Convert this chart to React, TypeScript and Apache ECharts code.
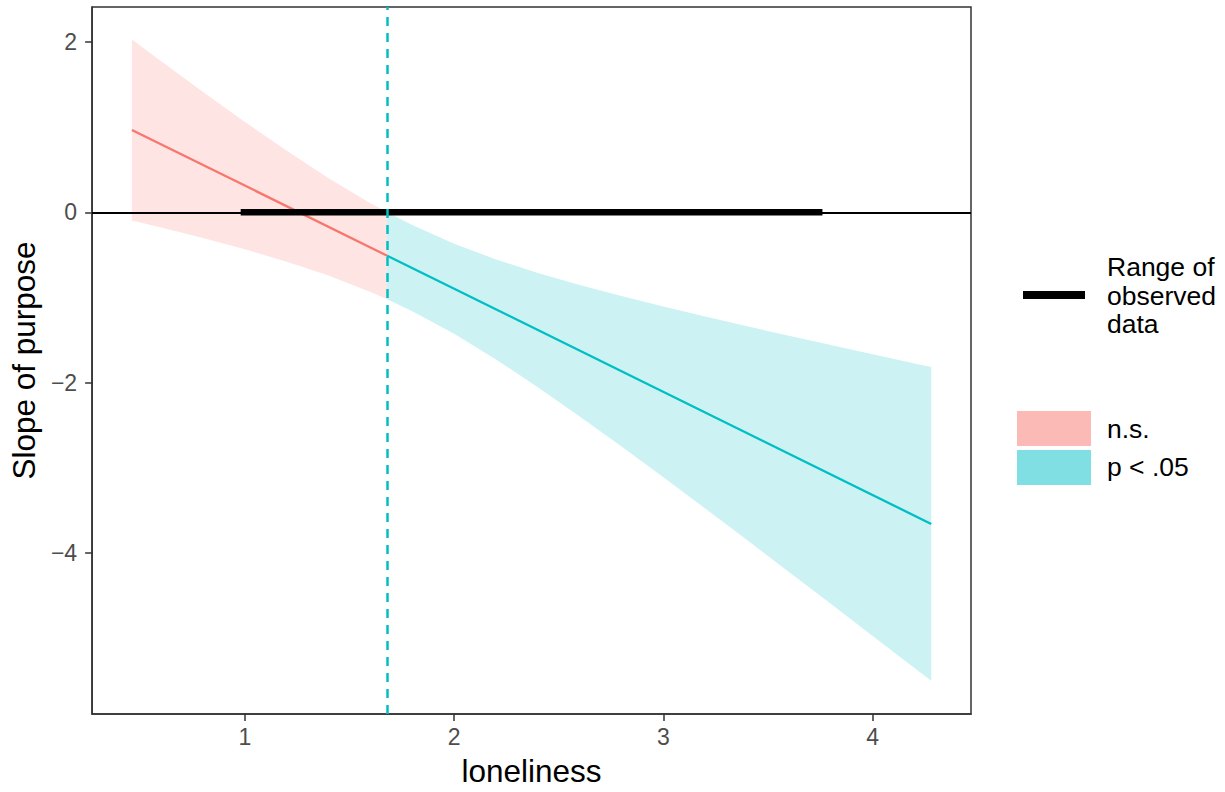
import React, { useEffect, useRef } from "react";
import * as echarts from "echarts";

// ---- data ----
const xTicks = [1, 2, 3, 4];
const yTicks = [-4, -2, 0, 2];

const nsX = [0.46, 0.6, 0.8, 1.0, 1.2, 1.4, 1.6, 1.68];
const nsLower = [-0.095, -0.179, -0.303, -0.435, -0.58, -0.743, -0.935, -1.02];
const nsUpper = [2.029, 1.773, 1.412, 1.061, 0.722, 0.401, 0.107, 0.0];

const sigX = [1.68, 1.8, 2.0, 2.2, 2.4, 2.6, 2.8, 3.0, 3.2, 3.4, 3.6, 3.8, 4.0, 4.2, 4.28];
const sigLower = [-1.02, -1.162, -1.427, -1.727, -2.053, -2.396, -2.75, -3.111, -3.478, -3.848, -4.222, -4.597, -4.973, -5.35, -5.501];
const sigUpper = [0.0, -0.15, -0.369, -0.553, -0.712, -0.854, -0.984, -1.107, -1.224, -1.338, -1.45, -1.559, -1.667, -1.774, -1.816];

const nsSlopeX = [0.46, 1.68];
const nsSlope = [0.967, -0.51];
const sigSlopeX = [1.68, 4.28];
const sigSlope = [-0.51, -3.659];

const observedRange = [0.98, 3.76];
const jnPoint = 1.68;

const xLimits = [0.27, 4.47];
const yLimits = [-5.89, 2.41];

const RED = "#F8766D";
const CYAN = "#00BFC4";
const FONT = "'Liberation Sans', Arial, Helvetica, sans-serif";

function bandSeries(xs: number[], lo: number[], hi: number[], fill: string) {
  return {
    type: "custom",
    data: xs.map((x, i) => [x, lo[i], hi[i]]),
    encode: { x: 0, y: [1, 2] },
    clip: true,
    silent: true,
    z: 1,
    renderItem: (params: any, api: any) => {
      if (params.dataIndex !== 0) return null;
      const top = xs.map((x, i) => api.coord([x, hi[i]]));
      const bot = xs.map((x, i) => api.coord([x, lo[i]])).reverse();
      return {
        type: "polygon",
        shape: { points: [...top, ...bot] },
        style: { fill },
      };
    },
  };
}

export default function App() {
  const ref = useRef<HTMLDivElement>(null);

  useEffect(() => {
    document.body.style.margin = "0";
    if (!ref.current) return;
    const chart = echarts.init(ref.current, undefined, { renderer: "svg" });

    const fmtMinus = (v: number) => (v < 0 ? "\u2212" + Math.abs(v) : String(v));

    chart.setOption({
      animation: false,
      backgroundColor: "#FFFFFF",
      textStyle: { fontFamily: FONT },
      grid: {
        left: 92,
        right: 254,
        top: 7,
        bottom: 75,
        show: true,
        borderColor: "#333333",
        borderWidth: 1.5,
        backgroundColor: "transparent",
      },
      xAxis: {
        type: "value",
        min: xLimits[0],
        max: xLimits[1],
        name: "loneliness",
        nameLocation: "middle",
        nameGap: 41,
        nameTextStyle: { fontSize: 31.5, color: "#000000", fontFamily: FONT },
        axisLine: { show: true, onZero: false, lineStyle: { color: "#333333", width: 1.5 } },
        axisTick: { show: true, length: 7, lineStyle: { color: "#333333", width: 1.5 }, customValues: xTicks },
        axisLabel: { customValues: xTicks, color: "#4D4D4D", fontSize: 23, margin: 11, fontFamily: FONT },
        splitLine: { show: false },
      },
      yAxis: {
        type: "value",
        min: yLimits[0],
        max: yLimits[1],
        name: "Slope of purpose",
        nameLocation: "middle",
        nameGap: 51,
        nameRotate: 90,
        nameTextStyle: { fontSize: 31.5, color: "#000000", fontFamily: FONT },
        axisLine: { show: true, onZero: false, lineStyle: { color: "#333333", width: 1.5 } },
        axisTick: { show: true, length: 7, lineStyle: { color: "#333333", width: 1.5 }, customValues: yTicks },
        axisLabel: {
          customValues: yTicks,
          color: "#4D4D4D",
          fontSize: 23,
          margin: 15,
          fontFamily: FONT,
          formatter: (v: number) => fmtMinus(v),
        },
        splitLine: { show: false },
      },
      series: [
        bandSeries(nsX, nsLower, nsUpper, "rgba(248,118,109,0.2)"),
        bandSeries(sigX, sigLower, sigUpper, "rgba(0,191,196,0.2)"),
        {
          type: "line",
          name: "zero",
          data: [],
          z: 2,
          markLine: {
            silent: true,
            symbol: "none",
            label: { show: false },
            lineStyle: { color: "#000000", width: 2, type: "solid" },
            data: [{ yAxis: 0 }],
          },
        },
        {
          type: "line",
          name: "n.s.",
          data: nsSlopeX.map((x, i) => [x, nsSlope[i]]),
          showSymbol: false,
          symbol: "none",
          lineStyle: { color: RED, width: 2.3 },
          z: 3,
        },
        {
          type: "line",
          name: "p < .05",
          data: sigSlopeX.map((x, i) => [x, sigSlope[i]]),
          showSymbol: false,
          symbol: "none",
          lineStyle: { color: CYAN, width: 2.3 },
          z: 3,
        },
        {
          type: "line",
          name: "Range of observed data",
          data: observedRange.map((x) => [x, 0]),
          showSymbol: false,
          symbol: "none",
          lineStyle: { color: "#000000", width: 6.5, cap: "butt" },
          z: 4,
        },
        {
          type: "line",
          name: "jn",
          data: [],
          z: 5,
          markLine: {
            silent: true,
            symbol: "none",
            label: { show: false },
            lineStyle: { color: CYAN, width: 2.5, type: [9, 7] },
            data: [{ xAxis: jnPoint }],
          },
        },
      ],
      graphic: [
        {
          type: "line",
          shape: { x1: 1023, y1: 295, x2: 1085, y2: 295 },
          style: { stroke: "#000000", lineWidth: 8 },
        },
        { type: "text", x: 1107, y: 267, style: { text: "Range of", font: `26.5px ${FONT}`, fill: "#000000", textVerticalAlign: "middle" } },
        { type: "text", x: 1107, y: 296, style: { text: "observed", font: `26.5px ${FONT}`, fill: "#000000", textVerticalAlign: "middle" } },
        { type: "text", x: 1107, y: 324, style: { text: "data", font: `26.5px ${FONT}`, fill: "#000000", textVerticalAlign: "middle" } },
        {
          type: "rect",
          shape: { x: 1017, y: 411, width: 74, height: 35 },
          style: { fill: "#FBBAB6" },
        },
        {
          type: "rect",
          shape: { x: 1017, y: 450, width: 74, height: 35 },
          style: { fill: "#80DFE2" },
        },
        { type: "text", x: 1107, y: 429, style: { text: "n.s.", font: `26.5px ${FONT}`, fill: "#000000", textVerticalAlign: "middle" } },
        { type: "text", x: 1107, y: 467, style: { text: "p < .05", font: `26.5px ${FONT}`, fill: "#000000", textVerticalAlign: "middle" } },
      ],
    });

    return () => chart.dispose();
  }, []);

  return <div ref={ref} style={{ width: 1225, height: 792 }} />;
}
